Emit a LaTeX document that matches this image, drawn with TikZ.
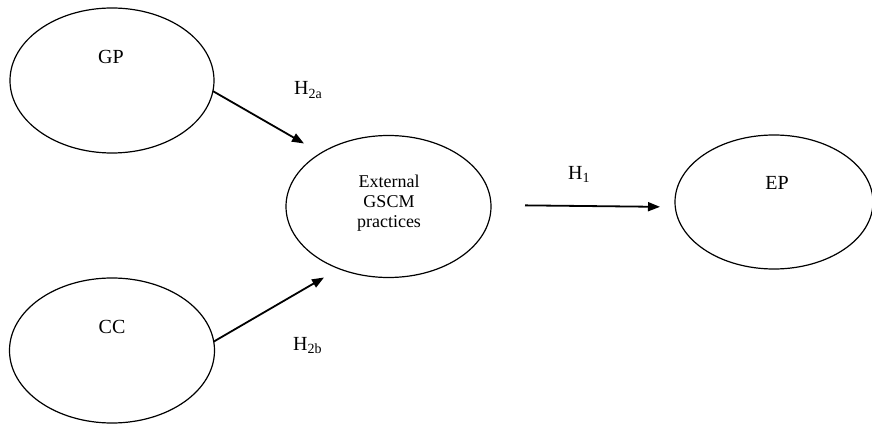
\documentclass[tikz,border=0pt]{standalone}
\usepackage{fontspec}
\setmainfont{Liberation Serif}
\usetikzlibrary{shapes.geometric,arrows.meta}
\begin{document}
\begin{tikzpicture}[x=1pt,y=-1pt,
  oval/.style={draw, ellipse, line width=1.2pt, inner sep=0pt, outer sep=0pt},
  big/.style={font=\fontsize{20}{22}\selectfont, inner sep=0pt},
  hyp/.style={font=\fontsize{20}{22}\selectfont, inner sep=0pt, anchor=base west},
  arr/.style={line width=1.8pt, -{Triangle[length=12pt,width=9pt]}}]
\useasboundingbox (0,0) rectangle (872,427);
% ellipses
\node[oval, minimum width=204pt, minimum height=145pt] (gp) at (112,80.5) {};
\node[oval, minimum width=205pt, minimum height=145pt] (cc) at (112,350.5) {};
\node[oval, minimum width=205pt, minimum height=142pt] (ext) at (388.5,206.5) {};
\node[oval, minimum width=198pt, minimum height=134pt] (ep) at (774,202) {};
% texts
\node[big] (gpt) at (111,57) {GP};
\node[big] (cct) at (112,327) {CC};
\node[big] (ept) at (777,183) {EP};
\node[font=\fontsize{18}{20}\selectfont, align=center, inner sep=0pt] (extt) at (389,203) {External\\GSCM\\practices};
% hypotheses labels
\node[hyp] (h2a) at (294,95) {H\textsubscript{2a}};
\node[hyp] (h2b) at (293,350.5) {H\textsubscript{2b}};
\node[hyp] (h1) at (568,179.3) {H\textsubscript{1}};
% arrows
\coordinate (tipa) at (304,143.5);
\coordinate (tipb) at (324,277.5);
\draw[arr] (gp.-6.5) -- (tipa);
\draw[arr] (cc.5.3) -- (tipb);
\draw[arr, shorten <=34pt, shorten >=15pt] ([yshift=1.5pt]ext.east) -- ([yshift=-5pt]ep.west);
\end{tikzpicture}
\end{document}
